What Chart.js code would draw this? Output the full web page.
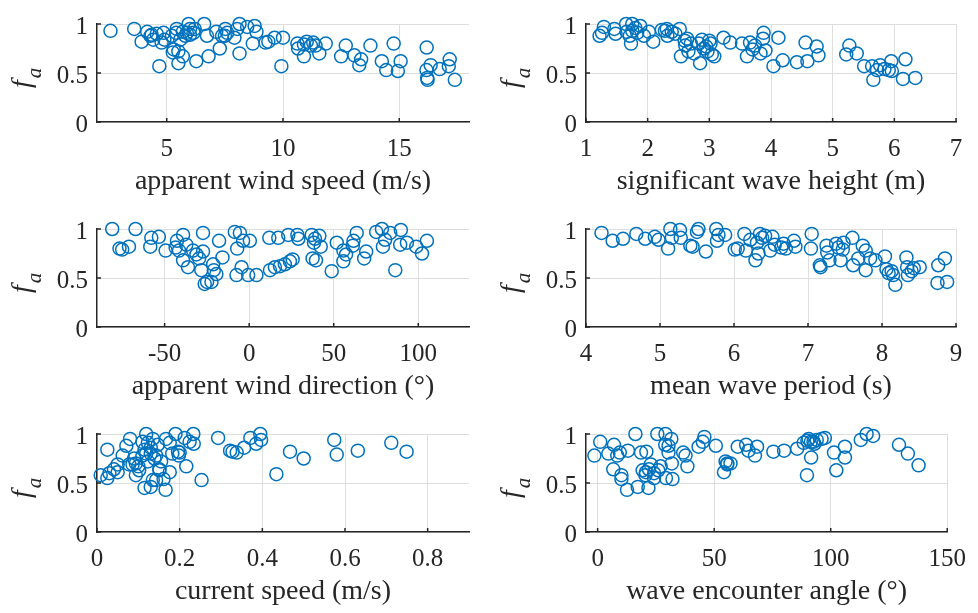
<!DOCTYPE html>
<html lang="en">
  <head>
    <meta charset="UTF-8" />
    <title>f_a scatter panels</title>
    <style>
      body {
        margin: 0;
        background: #fff;
      }
      #wrap {
        position: relative;
        width: 978px;
        height: 613px;
      }
      .cell {
        position: absolute;
      }
    </style>
    <script src="https://cdn.jsdelivr.net/npm/chart.js"></script>
  </head>
  <body>
    <div id="wrap"></div>
    <script>
      // values
      const windSpeed = [2.58, 3.6, 4.16, 3.92, 4.35, 4.42, 4.57, 4.86, 4.78, 4.68, 5.22, 5.26, 5.43, 5.5, 5.5, 5.69, 5.69, 5.94, 5.86, 6.0, 6.15, 5.58, 6.27, 6.61, 6.73, 6.8, 7.13, 7.28, 7.38, 7.52, 7.6, 7.91, 8.13, 8.03, 8.13, 8.46, 8.78, 8.86, 8.7, 9.25, 9.37, 9.64, 10.0, 9.93, 10.62, 10.65, 10.9, 11.02, 11.2, 11.4, 11.56, 11.84, 12.5, 12.7, 13.07, 13.36, 13.28, 13.76, 14.25, 14.44, 14.76, 15.06, 14.94, 16.18, 16.17, 16.35, 16.2, 16.22, 16.74, 17.13, 17.17, 17.39, 5.41, 5.8, 6.0, 6.2, 4.3, 4.9, 5.3, 10.9, 11.3, 7.5];
      const faWindSpeed = [0.93, 0.95, 0.92, 0.82, 0.89, 0.84, 0.9, 0.91, 0.81, 0.57, 0.88, 0.71, 0.95, 0.72, 0.6, 0.67, 0.92, 1.0, 0.91, 0.95, 0.91, 0.84, 0.62, 1.0, 0.88, 0.67, 0.92, 0.75, 0.88, 0.95, 0.91, 0.86, 1.0, 0.95, 0.7, 0.97, 0.98, 0.92, 0.8, 0.81, 0.82, 0.86, 0.86, 0.57, 0.8, 0.75, 0.67, 0.82, 0.78, 0.78, 0.7, 0.8, 0.67, 0.78, 0.68, 0.64, 0.58, 0.78, 0.62, 0.53, 0.8, 0.62, 0.52, 0.76, 0.53, 0.58, 0.45, 0.43, 0.54, 0.57, 0.64, 0.43, 0.91, 0.88, 0.89, 0.95, 0.88, 0.84, 0.74, 0.79, 0.81, 0.88];

      const waveHeight = [1.22, 1.29, 1.26, 1.46, 1.48, 1.65, 1.75, 1.66, 1.71, 1.73, 1.88, 1.83, 1.94, 2.02, 2.09, 2.23, 2.31, 2.32, 2.39, 2.52, 2.45, 2.64, 2.61, 2.54, 2.66, 2.75, 2.85, 2.88, 2.91, 3.02, 3.04, 3.08, 2.97, 2.83, 3.23, 3.34, 3.53, 3.61, 3.66, 3.74, 3.83, 3.88, 3.87, 3.91, 4.04, 4.12, 4.19, 4.42, 4.56, 4.59, 4.74, 4.77, 5.22, 5.27, 5.39, 5.51, 5.64, 5.66, 5.72, 5.77, 5.84, 5.91, 5.95, 5.96, 6.18, 6.14, 6.34, 1.75, 1.8, 2.28, 2.7, 2.95, 3.0, 3.7, 2.6];
      const faWaveHeight = [0.88, 0.97, 0.91, 0.95, 0.9, 1.0, 1.0, 0.92, 0.88, 0.8, 0.98, 0.91, 0.88, 0.92, 0.82, 0.94, 0.95, 0.88, 0.92, 0.95, 0.9, 0.85, 0.78, 0.67, 0.72, 0.7, 0.6, 0.84, 0.75, 0.8, 0.69, 0.67, 0.72, 0.8, 0.86, 0.81, 0.8, 0.67, 0.81, 0.78, 0.7, 0.91, 0.85, 0.73, 0.57, 0.86, 0.63, 0.61, 0.81, 0.62, 0.77, 0.68, 0.69, 0.78, 0.7, 0.57, 0.57, 0.43, 0.53, 0.58, 0.54, 0.53, 0.62, 0.52, 0.64, 0.44, 0.45, 0.93, 0.96, 0.93, 0.8, 0.77, 0.83, 0.74, 0.83];

      const windDir = [-81, -67.2, -76.7, -75.1, -71.1, -57.9, -53.4, -58.5, -49.4, -43.5, -42.7, -39.1, -41.5, -37.2, -39.1, -36.2, -33.2, -31.2, -29.6, -27.3, -27.3, -28.3, -26.3, -24.9, -22.3, -21.3, -20.9, -19.4, -17.8, -15.8, -8.5, -5.5, -7.1, -4.5, -7.5, -3.6, -0.6, 0.4, 4.3, 11.9, 12.3, 15.2, 17.2, 18.2, 21.1, 23.1, 24.1, 25.7, 28.5, 29.1, 37.0, 38.3, 41.5, 37.5, 39.5, 42.3, 38.9, 48.8, 51.8, 55.7, 57.3, 55.7, 61.7, 61.3, 63.6, 69.2, 68.0, 75.1, 78.5, 80.4, 79.1, 83.4, 86.4, 89.7, 89.3, 93.3, 98.8, 102.2, 105.1];
      const faWindDir = [1.0, 1.0, 0.8, 0.79, 0.82, 0.91, 0.92, 0.82, 0.78, 0.81, 0.88, 0.94, 0.78, 0.84, 0.68, 0.61, 0.78, 0.74, 0.7, 0.96, 0.77, 0.58, 0.44, 0.46, 0.46, 0.64, 0.58, 0.54, 0.88, 0.71, 0.97, 0.96, 0.8, 0.61, 0.53, 0.88, 0.53, 0.88, 0.53, 0.91, 0.58, 0.61, 0.91, 0.62, 0.64, 0.94, 0.67, 0.69, 0.94, 0.9, 0.94, 0.86, 0.93, 0.7, 0.68, 0.82, 0.9, 0.57, 0.86, 0.78, 0.74, 0.67, 0.88, 0.83, 0.96, 0.77, 0.7, 0.97, 1.0, 0.89, 0.82, 0.96, 0.58, 0.99, 0.84, 0.86, 0.82, 0.75, 0.88];

      const wavePeriod = [4.21, 4.36, 4.5, 4.68, 4.8, 4.93, 4.98, 5.14, 5.16, 5.11, 5.27, 5.28, 5.41, 5.44, 5.5, 5.52, 5.62, 5.76, 5.79, 5.77, 5.88, 6.01, 6.05, 6.14, 6.16, 6.22, 6.29, 6.33, 6.35, 6.38, 6.31, 6.42, 6.49, 6.52, 6.55, 6.64, 6.67, 6.7, 6.81, 6.83, 7.05, 7.04, 7.16, 7.17, 7.25, 7.26, 7.29, 7.38, 7.41, 7.48, 7.47, 7.44, 7.6, 7.61, 7.68, 7.74, 7.78, 7.78, 7.84, 7.91, 8.04, 8.06, 8.09, 8.13, 8.18, 8.15, 8.33, 8.34, 8.35, 8.4, 8.43, 8.51, 8.76, 8.85, 8.75, 8.88];
      const faWavePeriod = [0.96, 0.88, 0.9, 0.95, 0.9, 0.92, 0.89, 1.0, 0.91, 0.8, 0.99, 0.91, 0.83, 0.82, 0.97, 1.0, 0.77, 1.0, 0.94, 0.88, 0.94, 0.79, 0.8, 0.95, 0.78, 0.89, 0.68, 0.75, 0.95, 0.91, 0.86, 0.93, 0.78, 0.92, 0.84, 0.81, 0.85, 0.8, 0.88, 0.82, 0.95, 0.8, 0.63, 0.61, 0.83, 0.76, 0.68, 0.85, 0.81, 0.86, 0.79, 0.68, 0.91, 0.63, 0.7, 0.83, 0.78, 0.58, 0.7, 0.68, 0.72, 0.59, 0.55, 0.57, 0.43, 0.53, 0.71, 0.61, 0.53, 0.57, 0.6, 0.61, 0.63, 0.7, 0.45, 0.46];

      const currentSpeed = [0.009, 0.025, 0.025, 0.03, 0.041, 0.05, 0.05, 0.062, 0.071, 0.08, 0.086, 0.09, 0.094, 0.1, 0.11, 0.119, 0.115, 0.115, 0.119, 0.13, 0.135, 0.13, 0.135, 0.143, 0.147, 0.151, 0.155, 0.166, 0.161, 0.167, 0.176, 0.176, 0.19, 0.196, 0.198, 0.212, 0.216, 0.233, 0.234, 0.253, 0.293, 0.322, 0.328, 0.338, 0.356, 0.371, 0.385, 0.395, 0.397, 0.434, 0.467, 0.5, 0.574, 0.58, 0.631, 0.712, 0.749, 0.078, 0.094, 0.102, 0.123, 0.139, 0.151, 0.143, 0.182, 0.2, 0.224, 0.123, 0.11, 0.13];
      const faCurrentSpeed = [0.58, 0.84, 0.55, 0.6, 0.64, 0.69, 0.61, 0.78, 0.88, 0.95, 0.69, 0.75, 0.58, 0.67, 0.92, 1.0, 0.84, 0.45, 0.8, 0.46, 0.95, 0.86, 0.53, 0.78, 0.89, 0.64, 0.72, 0.43, 0.54, 0.95, 0.61, 0.91, 1.0, 0.82, 0.78, 0.96, 0.67, 1.0, 0.9, 0.53, 0.96, 0.83, 0.82, 0.81, 0.86, 0.96, 0.9, 1.0, 0.94, 0.59, 0.82, 0.75, 0.94, 0.79, 0.83, 0.91, 0.82, 0.69, 0.7, 0.63, 0.91, 0.75, 0.63, 0.53, 0.8, 0.81, 0.92, 0.72, 0.78, 0.8];

      const encounterAngle = [-1.4, 1.1, 4.6, 7.0, 6.7, 8.4, 9.5, 10.2, 10.2, 12.6, 13.0, 16.2, 17.2, 18.6, 20.9, 20.7, 20.5, 21.8, 22.8, 24.2, 25.6, 26.0, 27.0, 29.1, 29.3, 30.4, 31.6, 31.8, 32.1, 36.7, 37.7, 38.5, 43.3, 45.1, 45.8, 50.7, 54.2, 54.9, 55.6, 57.0, 60.1, 63.7, 64.7, 67.5, 68.4, 75.4, 80.0, 85.6, 88.4, 89.8, 91.6, 90.5, 92.6, 94.0, 96.1, 97.5, 101.4, 102.4, 106.1, 106.1, 112.9, 115.4, 118.2, 129.3, 133.1, 137.7, 29.0, 30.4, 19.3, 24.2, 22.0, 91.5, 93.0, 90.0, 55.6];
      const faEncounterAngle = [0.78, 0.92, 0.8, 0.89, 0.64, 0.78, 0.81, 0.58, 0.54, 0.43, 0.83, 1.0, 0.46, 0.81, 0.82, 0.61, 0.58, 0.45, 0.69, 0.55, 1.0, 0.63, 0.67, 1.0, 0.55, 0.88, 0.95, 0.7, 0.54, 0.81, 0.78, 0.67, 0.87, 0.92, 0.97, 0.88, 0.61, 0.72, 0.69, 0.7, 0.87, 0.89, 0.83, 0.78, 0.87, 0.82, 0.83, 0.85, 0.91, 0.58, 0.76, 0.95, 0.92, 0.94, 0.95, 0.96, 0.81, 0.63, 0.87, 0.76, 0.94, 1.0, 0.98, 0.89, 0.8, 0.68, 0.89, 0.81, 0.63, 0.6, 0.64, 0.92, 0.9, 0.93, 0.7];

      const yTicks = [0, 0.5, 1];
      const panels = [
        { xs: windSpeed, ys: faWindSpeed, min: 2, max: 18, ticks: [5, 10, 15], title: "apparent wind speed (m/s)" },
        { xs: waveHeight, ys: faWaveHeight, min: 1, max: 7, ticks: [1, 2, 3, 4, 5, 6, 7], title: "significant wave height (m)" },
        { xs: windDir, ys: faWindDir, min: -90, max: 130, ticks: [-50, 0, 50, 100], title: "apparent wind direction (°)" },
        { xs: wavePeriod, ys: faWavePeriod, min: 4, max: 9, ticks: [4, 5, 6, 7, 8, 9], title: "mean wave period (s)" },
        { xs: currentSpeed, ys: faCurrentSpeed, min: 0, max: 0.9, ticks: [0, 0.2, 0.4, 0.6, 0.8], title: "current speed (m/s)" },
        { xs: encounterAngle, ys: faEncounterAngle, min: -5, max: 150, ticks: [0, 50, 100, 150], title: "wave encounter angle (°)" },
      ];

      const FONT = "'Liberation Serif', 'Times New Roman', serif";
      const INK = "#262626";
      const BLUE = "#0072BD";

      // small inward tick marks + italic f_a label
      const axisExtras = {
        id: "axisExtras",
        afterDraw(chart) {
          const { ctx, chartArea: a, scales } = chart;
          ctx.save();
          ctx.strokeStyle = INK;
          ctx.lineWidth = 1.5;
          ctx.beginPath();
          scales.x.ticks.forEach((t) => {
            const px = scales.x.getPixelForValue(t.value);
            ctx.moveTo(px, a.bottom);
            ctx.lineTo(px, a.bottom - 4);
          });
          scales.y.ticks.forEach((t) => {
            const py = scales.y.getPixelForValue(t.value);
            ctx.moveTo(a.left, py);
            ctx.lineTo(a.left + 4, py);
          });
          ctx.stroke();

          const cy = (a.top + a.bottom) / 2 + 1;
          ctx.translate(30, cy);
          ctx.rotate(-Math.PI / 2);
          ctx.fillStyle = INK;
          ctx.textBaseline = "alphabetic";
          ctx.font = "italic 28px " + FONT;
          const fw = ctx.measureText("f").width;
          ctx.fillText("f", -14, 0);
          ctx.font = "italic 21px " + FONT;
          ctx.fillText("a", -14 + fw + 2, 11);
          ctx.restore();
        },
      };

      const wrap = document.getElementById("wrap");
      panels.forEach((p, i) => {
        const col = i % 2;
        const row = Math.floor(i / 2);
        const top = row * 205;
        const h = row === 2 ? 613 - top : 204;
        const div = document.createElement("div");
        div.className = "cell";
        div.style.left = col * 489 + "px";
        div.style.top = top + "px";
        div.style.width = "489px";
        div.style.height = h + "px";
        const canvas = document.createElement("canvas");
        div.appendChild(canvas);
        wrap.appendChild(div);

        new Chart(canvas.getContext("2d"), {
          type: "scatter",
          data: {
            datasets: [
              {
                data: p.xs.map((x, k) => ({ x: x, y: p.ys[k] })),
                borderColor: BLUE,
                backgroundColor: "rgba(0,0,0,0)",
                borderWidth: 1.5,
                pointRadius: 6.5,
                pointHoverRadius: 6.5,
                clip: false,
              },
            ],
          },
          plugins: [axisExtras],
          options: {
            responsive: true,
            maintainAspectRatio: false,
            animation: false,
            layout: { padding: { top: 15, right: col === 0 ? 20 : 22, left: 0, bottom: 0 } },
            plugins: { legend: { display: false }, tooltip: { enabled: false } },
            scales: {
              x: {
                type: "linear",
                min: p.min,
                max: p.max,
                afterBuildTicks: (s) => {
                  s.ticks = p.ticks.map((v) => ({ value: v }));
                },
                afterFit: (s) => {
                  s.height = h - 122;
                },
                grid: { color: "#dedede", lineWidth: 1, drawTicks: false },
                border: { display: true, color: INK, width: 1.5 },
                ticks: {
                  color: INK,
                  padding: 12,
                  font: { family: FONT, size: 25, lineHeight: 1.2 },
                  callback: (v) => String(v),
                },
                title: {
                  display: true,
                  text: p.title,
                  color: INK,
                  font: { family: FONT, size: 28, lineHeight: 1.2 },
                  padding: { top: 0, bottom: h - 182 - 16.8 },
                },
              },
              y: {
                min: 0,
                max: 1,
                afterBuildTicks: (s) => {
                  s.ticks = yTicks.map((v) => ({ value: v }));
                },
                afterFit: (s) => {
                  s.width = 97;
                },
                grid: { color: "#dedede", lineWidth: 1, drawTicks: false },
                border: { display: true, color: INK, width: 1.5 },
                ticks: {
                  color: INK,
                  padding: 9,
                  labelOffset: 3,
                  font: { family: FONT, size: 25, lineHeight: 1.2 },
                  callback: (v) => String(v),
                },
              },
            },
          },
        });
      });
    </script>
  </body>
</html>
